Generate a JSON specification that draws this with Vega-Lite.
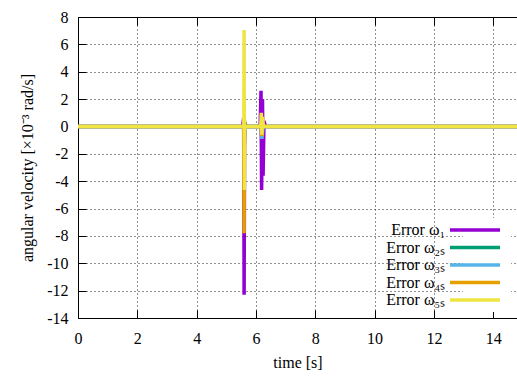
{
  "$schema": "https://vega.github.io/schema/vega-lite/v6.json",
  "autosize": "none",
  "width": 439,
  "height": 301,
  "padding": {"left": 78, "top": 17, "right": 0, "bottom": 58},
  "background": "white",
  "config": {
    "view": {"stroke": null},
    "font": "Liberation Serif",
    "axis": {"labelFont": "Liberation Serif", "titleFont": "Liberation Serif", "labelFontSize": 16, "titleFontSize": 16, "titleFontWeight": "normal", "labelColor": "black", "titleColor": "black", "domainColor": "black", "tickColor": "black", "domainWidth": 1, "tickWidth": 1, "labelOverlap": false},
    "legend": {"labelFont": "Liberation Serif", "labelFontSize": 16, "labelColor": "black"}
  },
  "data": {
    "values": [
      {"t": 0, "v": 0, "s": "Error ω₁"},
      {"t": 5.55, "v": 0, "s": "Error ω₁"},
      {"t": 5.585, "v": 0.6, "s": "Error ω₁"},
      {"t": 5.6, "v": -12.3, "s": "Error ω₁"},
      {"t": 5.615, "v": -1.5, "s": "Error ω₁"},
      {"t": 5.64, "v": 0, "s": "Error ω₁"},
      {"t": 6.14, "v": 0, "s": "Error ω₁"},
      {"t": 6.17, "v": 2.6, "s": "Error ω₁"},
      {"t": 6.19, "v": -4.65, "s": "Error ω₁"},
      {"t": 6.22, "v": 2.0, "s": "Error ω₁"},
      {"t": 6.24, "v": -3.6, "s": "Error ω₁"},
      {"t": 6.27, "v": 0.4, "s": "Error ω₁"},
      {"t": 6.32, "v": 0, "s": "Error ω₁"},
      {"t": 14.8, "v": 0, "s": "Error ω₁"},
      {"t": 0, "v": 0, "s": "Error ω₂ₛ"},
      {"t": 5.58, "v": 0, "s": "Error ω₂ₛ"},
      {"t": 5.61, "v": -0.6, "s": "Error ω₂ₛ"},
      {"t": 5.63, "v": 0.3, "s": "Error ω₂ₛ"},
      {"t": 5.66, "v": 0, "s": "Error ω₂ₛ"},
      {"t": 6.18, "v": 0, "s": "Error ω₂ₛ"},
      {"t": 6.2, "v": -0.5, "s": "Error ω₂ₛ"},
      {"t": 6.23, "v": 0, "s": "Error ω₂ₛ"},
      {"t": 14.8, "v": 0, "s": "Error ω₂ₛ"},
      {"t": 0, "v": 0, "s": "Error ω₃ₛ"},
      {"t": 5.58, "v": 0, "s": "Error ω₃ₛ"},
      {"t": 5.605, "v": -1.0, "s": "Error ω₃ₛ"},
      {"t": 5.63, "v": 0, "s": "Error ω₃ₛ"},
      {"t": 6.17, "v": 0, "s": "Error ω₃ₛ"},
      {"t": 6.2, "v": -0.9, "s": "Error ω₃ₛ"},
      {"t": 6.24, "v": 0, "s": "Error ω₃ₛ"},
      {"t": 14.8, "v": 0, "s": "Error ω₃ₛ"},
      {"t": 0, "v": 0, "s": "Error ω₄ₛ"},
      {"t": 5.59, "v": 0, "s": "Error ω₄ₛ"},
      {"t": 5.6, "v": -7.8, "s": "Error ω₄ₛ"},
      {"t": 5.61, "v": 0.5, "s": "Error ω₄ₛ"},
      {"t": 5.63, "v": 0, "s": "Error ω₄ₛ"},
      {"t": 6.17, "v": 0, "s": "Error ω₄ₛ"},
      {"t": 6.2, "v": -0.7, "s": "Error ω₄ₛ"},
      {"t": 6.22, "v": 0.5, "s": "Error ω₄ₛ"},
      {"t": 6.25, "v": 0, "s": "Error ω₄ₛ"},
      {"t": 14.8, "v": 0, "s": "Error ω₄ₛ"},
      {"t": 0, "v": 0, "s": "Error ω₅ₛ"},
      {"t": 5.59, "v": 0, "s": "Error ω₅ₛ"},
      {"t": 5.6, "v": 7.05, "s": "Error ω₅ₛ"},
      {"t": 5.61, "v": -4.65, "s": "Error ω₅ₛ"},
      {"t": 5.625, "v": 0, "s": "Error ω₅ₛ"},
      {"t": 6.16, "v": 0, "s": "Error ω₅ₛ"},
      {"t": 6.18, "v": 1.0, "s": "Error ω₅ₛ"},
      {"t": 6.2, "v": -0.6, "s": "Error ω₅ₛ"},
      {"t": 6.22, "v": 0.7, "s": "Error ω₅ₛ"},
      {"t": 6.25, "v": 0, "s": "Error ω₅ₛ"},
      {"t": 14.8, "v": 0, "s": "Error ω₅ₛ"}
    ]
  },
  "layer": [
    {
      "mark": {"type": "line", "strokeWidth": 3.5, "strokeJoin": "miter", "strokeCap": "butt"},
      "encoding": {
        "x": {"field": "t", "type": "quantitative", "scale": {"domain": [0, 14.8], "nice": false, "zero": false},
              "axis": {"orient": "bottom", "title": "time [s]", "values": [0, 2, 4, 6, 8, 10, 12, 14], "tickCount": 30, "labelExpr": "datum.value + ''", "tickSize": -8, "labelPadding": 20, "titlePadding": 8,
                       "grid": true, "gridColor": "#222", "gridDash": [1, 3], "gridWidth": 1, "gridOpacity": 1, "labelFlush": false}},
        "y": {"field": "v", "type": "quantitative", "scale": {"domain": [-14, 8], "nice": false, "zero": false},
              "axis": {"title": "angular velocity [×10⁻³ rad/s]", "values": [-14, -12, -10, -8, -6, -4, -2, 0, 2, 4, 6, 8], "tickCount": 30, "tickSize": -8, "labelPadding": 18,
                       "labelExpr": "datum.value + ''", "titlePadding": 11, "grid": true, "gridColor": "#222", "gridDash": [1, 3], "gridWidth": 1, "gridOpacity": 1, "labelFlush": false}},
        "color": {"field": "s", "type": "nominal",
                  "scale": {"domain": ["Error ω₁", "Error ω₂ₛ", "Error ω₃ₛ", "Error ω₄ₛ", "Error ω₅ₛ"], "range": ["#9400D3", "#009E73", "#56B4E9", "#E69F00", "#F0E442"]},
                  "legend": {"title": null, "orient": "bottom-right", "offset": 6, "symbolType": "M-5,0H5", "symbolSize": 100, "symbolStrokeWidth": 3.5,
                             "labelAlign": "right", "labelOffset": -38, "rowPadding": 1.5, "fillColor": "white", "padding": 4}}
      }
    },
    {
      "mark": {"type": "line", "opacity": 0},
      "encoding": {
        "x": {"field": "t", "type": "quantitative", "scale": {"domain": [0, 14.8], "nice": false, "zero": false},
              "axis": {"orient": "top", "title": null, "labels": false, "values": [0, 2, 4, 6, 8, 10, 12, 14], "tickCount": 30, "tickSize": -8, "grid": false}},
        "y": {"field": "v", "type": "quantitative"}
      }
    }
  ],
  "resolve": {"axis": {"x": "independent"}}
}
